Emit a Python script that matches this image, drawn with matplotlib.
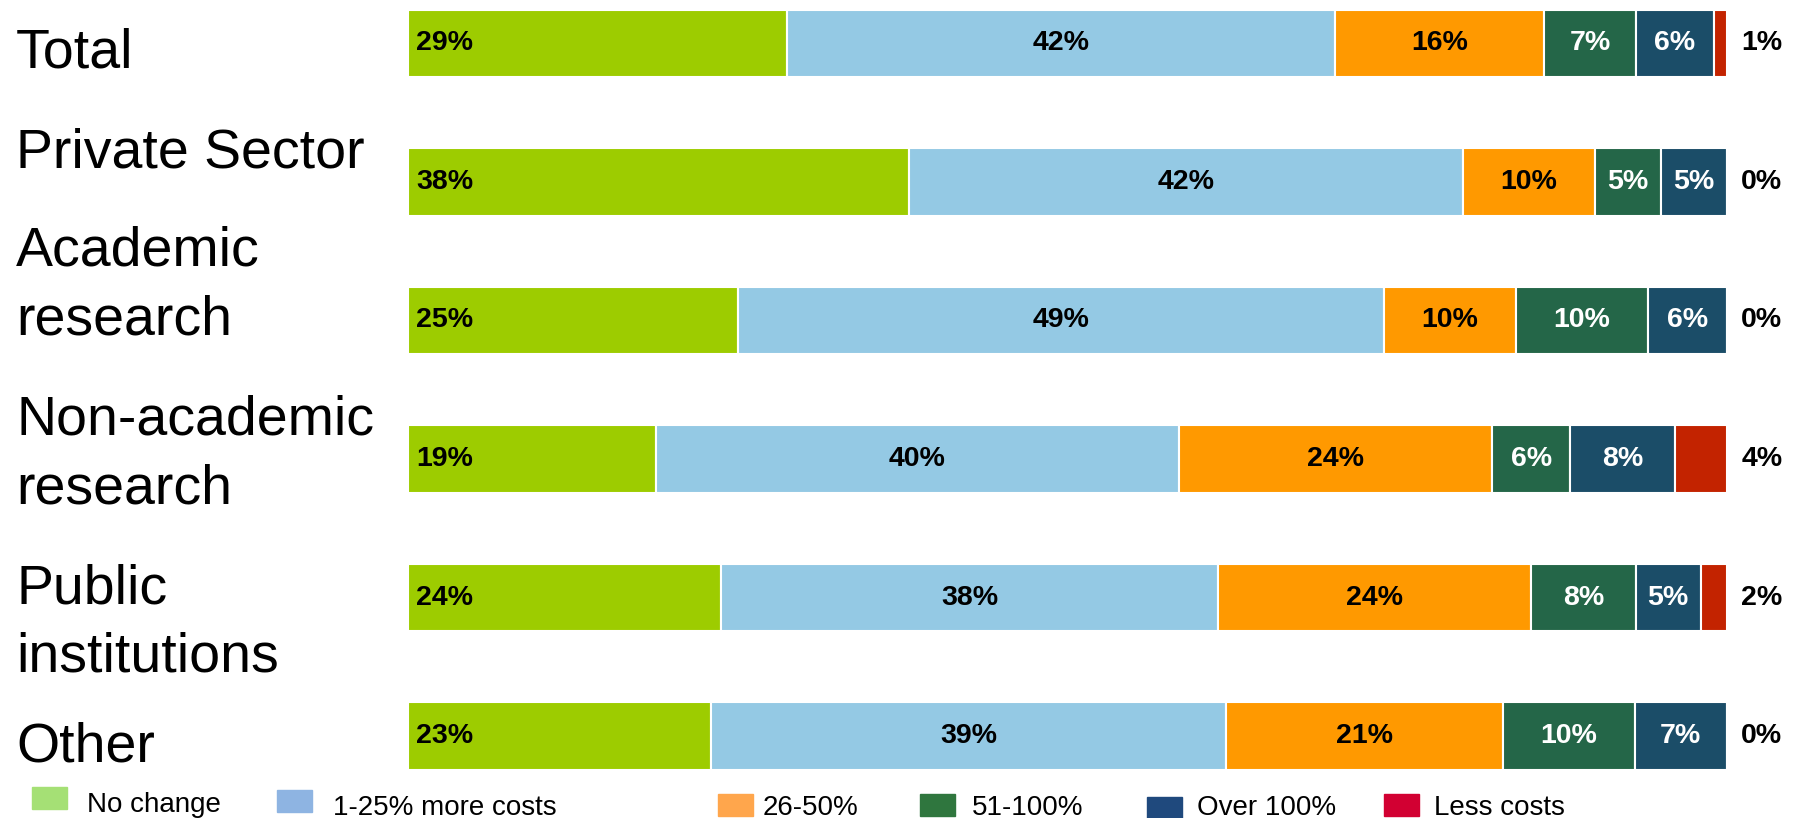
import matplotlib
matplotlib.use("Agg")
import matplotlib.pyplot as plt
from matplotlib.patches import Rectangle
import numpy as np

plt.rcParams["font.family"] = ["Liberation Sans", "DejaVu Sans"]

# ── data ─────────────────────────────────────────────────────────────────────
categories = ["Total", "Private Sector", "Academic\nresearch",
              "Non-academic\nresearch", "Public\ninstitutions", "Other"]
series = ["No change", "1-25% more costs", "26-50%", "51-100%",
          "Over 100%", "Less costs"]
no_change   = [29, 38, 25, 19, 24, 23]
more_1_25   = [42, 42, 49, 40, 38, 39]
more_26_50  = [16, 10, 10, 24, 24, 21]
more_51_100 = [7, 5, 10, 6, 8, 10]
over_100    = [6, 5, 6, 8, 5, 7]
less_costs  = [1, 0, 0, 4, 2, 0]

# ── style ────────────────────────────────────────────────────────────────────
bar_colors    = ["#9dcc00", "#94c9e4", "#ff9900", "#246648", "#1b4d68", "#c32300"]
legend_colors = ["#a5e075", "#8eb4e2", "#ffa64c", "#2f763e", "#1f497d", "#d20032"]
label_colors  = ["black", "black", "black", "white", "white", "black"]

W, H = 1801, 818
# baseline of the last line of each category label (px from top)
cat_baselines = [67, 167, 334, 503, 672, 762]
# legend: square left, square top, text left, text baseline (px)
legend_pos = [(32, 787, 87, 812), (277, 790, 333, 815), (718, 794, 763, 815),
              (920, 794, 972, 815), (1147, 797, 1197, 815), (1384, 794, 1434, 815)]

values = np.array([no_change, more_1_25, more_26_50,
                   more_51_100, over_100, less_costs], dtype=float).T
shares = values / values.sum(axis=1, keepdims=True) * 100

fig = plt.figure(figsize=(W / 100, H / 100), dpi=100)
ax = fig.add_axes([408 / W, 0, (1727 - 408) / W, 1])
ax.set_xlim(0, 100)
ax.set_ylim(5.592, -0.314)
ax.axis("off")

y = np.arange(len(categories))
left = np.zeros(len(categories))
for j, name in enumerate(series):
    ax.barh(y, shares[:, j], left=left, height=0.49, color=bar_colors[j],
            edgecolor="white", linewidth=1.5, label=name)
    for i in y:
        txt = f"{values[i, j]:.0f}%"
        if j == 0:
            ax.text(left[i] + 0.6, i, txt, ha="left", va="center",
                    fontsize=20.5, fontweight="bold", color=label_colors[j])
        elif j == len(series) - 1:
            ax.annotate(txt, xy=(100, i), xytext=(25, 0), textcoords="offset points",
                        ha="center", va="center", fontsize=20.5, fontweight="bold",
                        color=label_colors[j])
        else:
            ax.text(left[i] + shares[i, j] / 2, i, txt, ha="center", va="center",
                    fontsize=20.5, fontweight="bold", color=label_colors[j])
    left += shares[:, j]

for lbl, b in zip(categories, cat_baselines):
    fig.text(16 / W, 1 - b / H, lbl, ha="left", va="baseline",
             fontsize=40, linespacing=1.42)

for (sx, sy, tx, tb), name, col in zip(legend_pos, series, legend_colors):
    fig.add_artist(Rectangle((sx / W, 1 - (sy + 22) / H), 35 / W, 22 / H,
                             transform=fig.transFigure, color=col))
    fig.text(tx / W, 1 - tb / H, name, ha="left", va="baseline", fontsize=20)

fig.savefig("out.png", dpi=100)
